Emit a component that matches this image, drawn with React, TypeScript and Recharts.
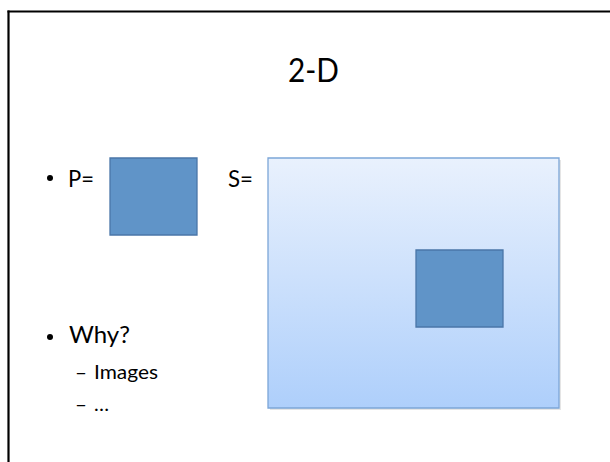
import React from "react";
import { ComposedChart, XAxis, YAxis, ReferenceArea, ReferenceLine } from "recharts";

// slide coordinates (px on the 610x462 page)
const boxNames = ["P", "S", "match"];
const boxLeft = [110, 268, 416];
const boxRight = [197, 559, 503];
const boxTop = [158, 158, 250];
const boxBottom = [235, 408, 327];

const title = "2-D";
const bullets = ["P=", "Why?"];
const subBullets = ["Images", "…"];
const sLabel = "S=";

const boxes = boxNames.map((name, i) => ({
  name,
  x1: boxLeft[i],
  x2: boxRight[i],
  y1: boxTop[i],
  y2: boxBottom[i],
}));

const font = "Lato, 'Open Sans', sans-serif";

export default function App() {
  const [p, s, m] = boxes;
  return (
    <div style={{ position: "absolute", left: 0, top: 0, width: 610, height: 462, background: "#fff" }}>
      <ComposedChart width={610} height={462} data={boxes} margin={{ top: 0, right: 0, bottom: 0, left: 0 }}>
        <defs>
          <linearGradient id="sGrad" x1="0" y1="0" x2="0" y2="1">
            <stop offset="0%" stopColor="#E9F1FD" />
            <stop offset="100%" stopColor="#AECFFB" />
          </linearGradient>
        </defs>
        <XAxis type="number" dataKey="x1" domain={[0, 610]} hide />
        <YAxis type="number" dataKey="y1" domain={[0, 462]} reversed hide />

        <ReferenceLine segment={[{ x: 8.5, y: 10.5 }, { x: 8.5, y: 462 }]} stroke="#000" strokeWidth={2.2} ifOverflow="visible" />
        <ReferenceLine segment={[{ x: 7.5, y: 11.5 }, { x: 610, y: 11.5 }]} stroke="#000" strokeWidth={2.2} ifOverflow="visible" />

        <ReferenceArea x1={p.x1} x2={p.x2} y1={p.y1} y2={p.y2} fill="#6094C8" fillOpacity={1} stroke="#4A76A8" strokeWidth={1.3} ifOverflow="visible" />

        <ReferenceArea x1={s.x1 + 2} x2={s.x2 + 2} y1={s.y1 + 2} y2={s.y2 + 2} fill="#000" fillOpacity={0.1} stroke="none" ifOverflow="visible" />
        <ReferenceArea x1={s.x1} x2={s.x2} y1={s.y1} y2={s.y2} fill="url(#sGrad)" fillOpacity={1} stroke="#7CA6D8" strokeWidth={1.3} ifOverflow="visible" />

        <ReferenceArea x1={m.x1} x2={m.x2} y1={m.y1} y2={m.y2} fill="#6094C8" fillOpacity={1} stroke="#4A76A8" strokeWidth={1.3} ifOverflow="visible" />

        <g fontFamily={font} fill="#000">
          <text x={288} y={82} fontSize={32} textLength={51} lengthAdjust="spacingAndGlyphs">{title}</text>

          <circle cx={50} cy={178} r={3} />
          <text x={68} y={187} fontSize={24} textLength={26} lengthAdjust="spacingAndGlyphs">{bullets[0]}</text>
          <text x={228} y={187} fontSize={24} textLength={25} lengthAdjust="spacingAndGlyphs">{sLabel}</text>

          <circle cx={50} cy={337} r={3} />
          <text x={69} y={343} fontSize={24} textLength={61} lengthAdjust="spacingAndGlyphs">{bullets[1]}</text>

          <text x={75} y={379} fontSize={20} textLength={12} lengthAdjust="spacingAndGlyphs">–</text>
          <text x={94} y={379} fontSize={20} textLength={64} lengthAdjust="spacingAndGlyphs">{subBullets[0]}</text>
          <text x={75} y={411} fontSize={20} textLength={12} lengthAdjust="spacingAndGlyphs">–</text>
          <text x={94} y={411} fontSize={20} textLength={15} lengthAdjust="spacingAndGlyphs">{subBullets[1]}</text>
        </g>
      </ComposedChart>
    </div>
  );
}
